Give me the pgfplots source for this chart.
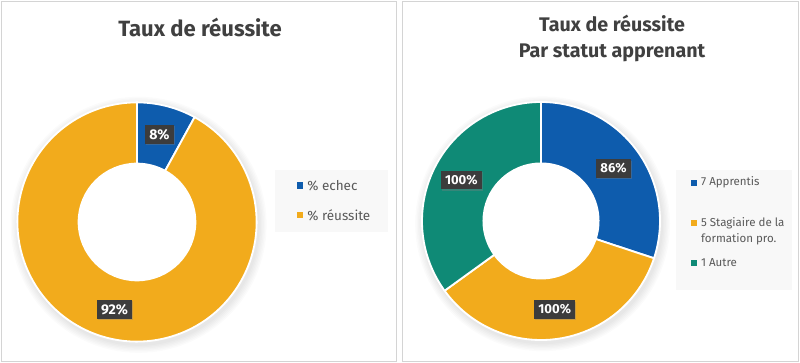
\documentclass[border=0pt]{standalone}
\usepackage{fontspec}
\setmainfont{Fira Sans}
\usepackage{pgfplots}
\pgfplotsset{compat=1.18}
\usepackage{pgfplotstable}
\usetikzlibrary{calc,shadows}

\definecolor{cblue}{HTML}{0E5CAD}
\definecolor{corange}{HTML}{F2AB1C}
\definecolor{cgreen}{HTML}{0F8A76}
\definecolor{ctitle}{HTML}{404040}
\definecolor{clegtxt}{HTML}{595959}
\definecolor{clegbg}{HTML}{F8F8F8}
\definecolor{cborder}{HTML}{D4D4D4}
\definecolor{clabel}{HTML}{3C3C3C}

% Left chart: taux de reussite
\pgfplotstableread{
name value color
echec 8 cblue
reussite 92 corange
}\tabA
% Right chart: taux de reussite par statut apprenant
\pgfplotstableread{
name value color
apprentis 86 cblue
stagiaire 100 corange
autre 100 cgreen
}\tabB

\newcommand\prepdonut[2]{%
  \pgfplotstablegetrowsof{#1}\pgfmathtruncatemacro\nr{\pgfplotsretval-1}%
  \def\tot{0}%
  \pgfplotsforeachungrouped \i in {0,...,\nr}{%
    \pgfplotstablegetelem{\i}{value}\of{#1}%
    \pgfmathsetmacro\tot{\tot+\pgfplotsretval}}%
  \def\cum{0}%
  \pgfplotsforeachungrouped \i in {0,...,\nr}{%
    \pgfplotstablegetelem{\i}{value}\of{#1}\let\vv\pgfplotsretval
    \pgfmathsetmacro\dA{90-(\cum/\tot)*360}%
    \pgfmathsetmacro\cum{\cum+\vv}%
    \pgfmathsetmacro\dB{90-(\cum/\tot)*360}%
    \pgfmathsetmacro\dM{(\dA+\dB)/2}%
    \pgfmathtruncatemacro\vt{round(\vv)}%
    \expandafter\xdef\csname #2s\i\endcsname{\dA}%
    \expandafter\xdef\csname #2e\i\endcsname{\dB}%
    \expandafter\xdef\csname #2m\i\endcsname{\dM}%
    \expandafter\xdef\csname #2v\i\endcsname{\vt}%
    \pgfplotstablegetelem{\i}{color}\of{#1}%
    \expandafter\xdef\csname #2c\i\endcsname{\pgfplotsretval}%
  }%
}
\prepdonut{\tabA}{A}
\prepdonut{\tabB}{B}

\tikzset{
  lbl/.style={fill=clabel, text=white, font=\bfseries\fontsize{#1}{10}\selectfont,
    inner xsep=3pt, inner ysep=3pt,
    drop shadow={shadow xshift=0.7pt, shadow yshift=-0.9pt, opacity=0.35}},
  legtxt/.style={anchor=west, text=clegtxt, font=\fontsize{#1}{10.5}\selectfont, inner sep=0pt},
}

% #1 prefix, #2 last row index, #3 outer radius, #4 inner radius, #5 label font size
\newcommand\drawdonut[5]{%
  \pgfplotsinvokeforeach{1,...,6}{%
    \fill[black, opacity=0.016, even odd rule]
      ($(axis cs:0,0)+(0.04cm,-0.07cm)$) circle[radius={#3+0.035cm*##1}]
      ($(axis cs:0,0)+(0.04cm,-0.07cm)$) circle[radius={#3-0.1cm}];
  }%
  \pgfplotsinvokeforeach{0,...,#2}{%
    \filldraw[fill=\csname #1c##1\endcsname, draw=white, line width=1.3pt, line join=miter]
      ($(axis cs:0,0)+(\csname #1s##1\endcsname:#3)$)
        arc[start angle=\csname #1s##1\endcsname, end angle=\csname #1e##1\endcsname, radius=#3]
      -- ($(axis cs:0,0)+(\csname #1e##1\endcsname:#4)$)
        arc[start angle=\csname #1e##1\endcsname, end angle=\csname #1s##1\endcsname, radius=#4]
      -- cycle;
  }%
  \pgfplotsinvokeforeach{0,...,#2}{%
    \node[lbl=#5] at ($(axis cs:0,0)+(\csname #1m##1\endcsname:{(#3+#4)/2+0.03cm})$) {\csname #1v##1\endcsname\%};
  }%
}

\begin{document}
\begin{tikzpicture}
\useasboundingbox (0,0) rectangle (20cm,9.075cm);
% panel frames
\draw[cborder, line width=0.7pt] (0.04cm,0.04cm) rectangle (9.92cm,9.04cm);
\draw[cborder, line width=0.7pt] (10.07cm,0.04cm) rectangle (19.96cm,9.04cm);

% ---------- left chart ----------
\node[text=ctitle, font=\bfseries\fontsize{15.7}{19}\selectfont] at (5.0cm,8.38cm) {Taux de réussite};
\begin{axis}[at={(3.425cm,3.525cm)}, anchor=origin, x=1cm, y=1cm,
  xmin=-3.3, xmax=3.3, ymin=-3.3, ymax=3.3, hide axis, clip=false]
  \drawdonut{A}{1}{2.99cm}{1.46cm}{10}
\end{axis}
\fill[clegbg] (6.875cm,3.275cm) rectangle (9.7cm,4.825cm);
\fill[cblue] (7.415cm,4.355cm) rectangle ++(0.16cm,0.16cm);
\node[legtxt=9.6] at (7.675cm,4.43cm) {\% echec};
\fill[corange] (7.415cm,3.625cm) rectangle ++(0.16cm,0.16cm);
\node[legtxt=9.6] at (7.675cm,3.70cm) {\% réussite};

% ---------- right chart ----------
\node[text=ctitle, font=\bfseries\fontsize{14}{17}\selectfont, align=center] at (15.3cm,8.11cm) {Taux de réussite\\[1pt]Par statut apprenant};
\begin{axis}[at={(13.525cm,3.55cm)}, anchor=origin, x=1cm, y=1cm,
  xmin=-3.3, xmax=3.3, ymin=-3.3, ymax=3.3, hide axis, clip=false]
  \drawdonut{B}{2}{2.975cm}{1.44cm}{9.3}
\end{axis}
\fill[clegbg] (16.9cm,1.825cm) rectangle (19.8cm,4.825cm);
\fill[cblue] (17.265cm,4.433cm) rectangle ++(0.15cm,0.15cm);
\node[legtxt=8.2] at (17.52cm,4.508cm) {7 Apprentis};
\fill[corange] (17.265cm,3.415cm) rectangle ++(0.15cm,0.15cm);
\node[legtxt=8.2] at (17.52cm,3.49cm) {5 Stagiaire de la};
\node[legtxt=8.2] at (17.52cm,3.09cm) {formation pro.};
\fill[cgreen] (17.265cm,2.435cm) rectangle ++(0.15cm,0.15cm);
\node[legtxt=8.2] at (17.52cm,2.51cm) {1 Autre};
\end{tikzpicture}
\end{document}
